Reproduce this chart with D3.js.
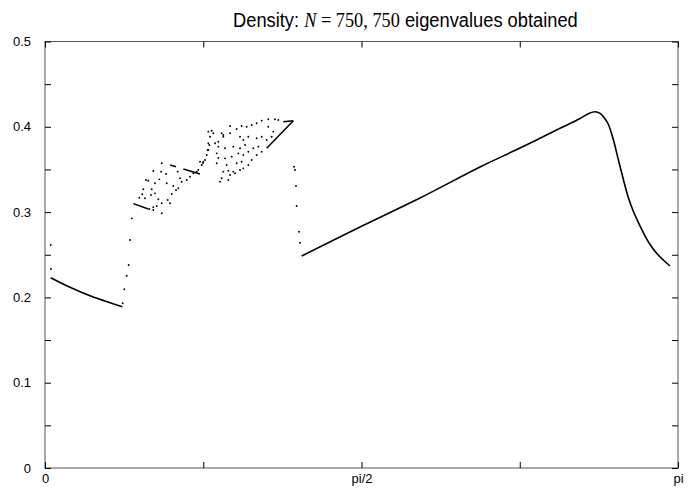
<!DOCTYPE html>
<html><head><meta charset="utf-8">
<script src="https://cdn.jsdelivr.net/npm/d3@7"></script>
<style>html,body{margin:0;padding:0;background:#fff}</style>
</head><body><svg id="chart" width="694" height="490"></svg>
<script>
// Eigenvalue density, x given in units of pi, y the density value.

// Smooth left branch (dense eigenvalues, drawn as a line)
const leftBranchX = [0.009, 0.0395, 0.0711, 0.1027, 0.1221];
const leftBranchY = [0.223, 0.2118, 0.2018, 0.1937, 0.1891];

// Smooth main branch: rising part, peak and falling tail
const mainBranchX = [0.4055, 0.4992, 0.5924, 0.6872, 0.7504, 0.8136, 0.8452, 0.8600, 0.8689, 0.8770, 0.8840, 0.8899, 0.8978, 0.9057, 0.9136, 0.9215, 0.9294, 0.9373, 0.9452, 0.9558, 0.9663, 0.9768, 0.9874];
const mainBranchY = [0.2485, 0.2831, 0.3165, 0.3529, 0.3751, 0.3982, 0.4097, 0.4160, 0.4177, 0.4158, 0.4100, 0.4030, 0.3850, 0.3615, 0.3385, 0.3170, 0.3010, 0.2880, 0.2760, 0.2620, 0.2517, 0.2438, 0.2368];

// Short runs of closely spaced eigenvalues inside the scattered region
const runStartX = [0.1395, 0.1975, 0.2185, 0.3923, 0.3765];
const runStartY = [0.3099, 0.3552, 0.3505, 0.4072, 0.4060];
const runEndX   = [0.1632, 0.2070, 0.2449, 0.3502, 0.3923];
const runEndY   = [0.3036, 0.3532, 0.3447, 0.3748, 0.4072];

// Isolated eigenvalues
const scatterX = [
  0.009, 0.0095,
  0.1227, 0.1253, 0.1290, 0.1322, 0.1343, 0.1370,
  0.1844, 0.1711, 0.1833, 0.1912, 0.2096, 0.2449, 0.2496, 0.2528, 0.2476,
  0.2580, 0.2596, 0.2570, 0.1632, 0.1806, 0.2133, 0.2160, 0.1686, 0.1553,
  0.1738, 0.1923, 0.2027, 0.2106, 0.2239, 0.2291, 0.2343, 0.2397, 0.1490,
  0.1537, 0.1580, 0.1675, 0.1738, 0.1790, 0.1938, 0.2002, 0.2070, 0.1648,
  0.1711, 0.1765, 0.1844, 0.1844, 0.1711, 0.1975, 0.1596,
  0.2501, 0.2422, 0.2634, 0.2659, 0.2607, 0.2580, 0.2580, 0.2555,
  0.2686, 0.2738, 0.2713, 0.2738, 0.2713,
  0.2791, 0.2817, 0.2923, 0.3028, 0.3107, 0.3186, 0.3265, 0.3344, 0.3423, 0.3528, 0.3633, 0.3686,
  0.2765, 0.2791, 0.2896, 0.2923, 0.3002, 0.3081, 0.3133, 0.3212, 0.3265, 0.3344, 0.3423,
  0.2817, 0.2896, 0.2975,
  0.2923, 0.3081, 0.3133, 0.3212, 0.3344, 0.3423, 0.3502, 0.3581, 0.3607, 0.3528,
  0.2844, 0.2975, 0.3081, 0.3160, 0.2844, 0.2949, 0.3054, 0.3133, 0.3212, 0.3291, 0.3370,
  0.2817, 0.2738, 0.2870, 0.3028, 0.3107,
  0.3934, 0.3949, 0.3965, 0.3976, 0.4013, 0.4028
];
const scatterY = [
  0.2614, 0.2333,
  0.1931, 0.2095, 0.2254, 0.2380, 0.2673, 0.2927,
  0.3572, 0.3482, 0.3474, 0.3447, 0.3474, 0.3591, 0.3576, 0.3611, 0.3552,
  0.3943, 0.3787, 0.3728, 0.3368, 0.3384, 0.3396, 0.3356, 0.3267, 0.3267,
  0.3338, 0.3338, 0.3306, 0.3279, 0.3376, 0.3415, 0.3455, 0.3474, 0.3169,
  0.3209, 0.3162, 0.3200, 0.3220, 0.3150, 0.3142, 0.3212, 0.3259, 0.3036,
  0.3056, 0.3071, 0.3103, 0.2986, 0.3025, 0.3103, 0.3376,
  0.3591, 0.3494, 0.3954, 0.3924, 0.3884, 0.3807, 0.3728, 0.3669,
  0.3807, 0.3767, 0.3689, 0.3634, 0.3572,
  0.3924, 0.3904, 0.4009, 0.3974, 0.4009, 0.4001, 0.4021, 0.4041, 0.4072, 0.4088, 0.4088, 0.4080,
  0.3357, 0.3396, 0.3376, 0.3435, 0.3455, 0.3494, 0.3513, 0.3552, 0.3611, 0.3669, 0.3708,
  0.3474, 0.3485, 0.3474,
  0.3924, 0.3884, 0.3845, 0.3884, 0.3865, 0.3884, 0.3845, 0.3884, 0.3943, 0.4001,
  0.3748, 0.3767, 0.3748, 0.3787, 0.3630, 0.3650, 0.3689, 0.3669, 0.3708, 0.3748, 0.3767,
  0.3884, 0.3825, 0.3552, 0.3572, 0.3591,
  0.3532, 0.3494, 0.3306, 0.3072, 0.2770, 0.2641
];

// Axis ticks
const xTickValues = [0, 0.25, 0.5, 0.75, 1];
const xTickLabels = ["0", "", "pi/2", "", "pi"];
const yTickValues = [0, 0.05, 0.1, 0.15, 0.2, 0.25, 0.3, 0.35, 0.4, 0.45, 0.5];
const yTickLabels = ["0", "", "0.1", "", "0.2", "", "0.3", "", "0.4", "", "0.5"];

const W = 694, H = 490;
const margin = {left: 45, right: 16, top: 41.5, bottom: 22};
const svg = d3.select("#chart");

const x = d3.scaleLinear().domain([0, 1]).range([margin.left, W - margin.right]);
const y = d3.scaleLinear().domain([0, 0.5]).range([H - margin.bottom, margin.top]);

const labelFont = "'Liberation Sans', Arial, Helvetica, sans-serif";
const mathFont = "'Liberation Serif', 'DejaVu Serif', serif";
const tickLen = 6;

// Frame
svg.append("rect")
  .attr("x", x(0)).attr("y", y(0.5))
  .attr("width", x(1) - x(0)).attr("height", y(0) - y(0.5))
  .attr("fill", "none").attr("stroke", "#555").attr("stroke-width", 1);

function styleAxis(g) {
  g.select(".domain").remove();
  g.selectAll(".tick line").attr("stroke", "#000").attr("stroke-width", 1);
  g.selectAll(".tick text").attr("font-family", labelFont).attr("font-size", 13).attr("fill", "#000");
}

// Bottom and left axes with labels; top and right mirrored ticks only
svg.append("g").attr("transform", `translate(0,${y(0)})`)
  .call(d3.axisBottom(x).tickValues(xTickValues)
    .tickFormat((d, i) => xTickLabels[i]).tickSizeInner(-tickLen).tickSizeOuter(0).tickPadding(3))
  .call(styleAxis)
  .call(g => g.selectAll(".tick text").attr("dy", "0.9em"));

svg.append("g").attr("transform", `translate(0,${y(0.5)})`)
  .call(d3.axisTop(x).tickValues(xTickValues).tickFormat("").tickSizeInner(-tickLen).tickSizeOuter(0))
  .call(styleAxis);

svg.append("g").attr("transform", `translate(${x(0)},0)`)
  .call(d3.axisLeft(y).tickValues(yTickValues)
    .tickFormat((d, i) => yTickLabels[i]).tickSizeInner(-tickLen).tickSizeOuter(0).tickPadding(14))
  .call(styleAxis);

svg.append("g").attr("transform", `translate(${x(1)},0)`)
  .call(d3.axisRight(y).tickValues(yTickValues).tickFormat("").tickSizeInner(-tickLen).tickSizeOuter(0))
  .call(styleAxis);

// Title, set in a slightly condensed face
const titleG = svg.append("g");
const title = titleG.append("text")
  .attr("x", 0).attr("y", 0)
  .attr("font-size", 20).attr("fill", "#000");
title.append("tspan").attr("font-family", labelFont).text("Density: ");
title.append("tspan").attr("font-family", mathFont).attr("font-style", "italic").text("N");
title.append("tspan").attr("font-family", mathFont).text(" = 750, 750");
title.append("tspan").attr("font-family", labelFont).text(" eigenvalues obtained");
const titleWidth = title.node().getComputedTextLength();
titleG.attr("transform", `translate(233,27) scale(${345 / titleWidth},1)`);

const plot = svg.append("g");
const line = d3.line().x(d => x(d[0])).y(d => y(d[1])).curve(d3.curveCatmullRom.alpha(0.5));

// Dense branches
[[leftBranchX, leftBranchY], [mainBranchX, mainBranchY]].forEach(([xs, ys]) => {
  plot.append("path")
    .datum(xs.map((v, i) => [v, ys[i]]))
    .attr("d", line)
    .attr("fill", "none").attr("stroke", "#000").attr("stroke-width", 1.6);
});

// Short runs
plot.selectAll("line.run")
  .data(runStartX.map((v, i) => ({x1: v, y1: runStartY[i], x2: runEndX[i], y2: runEndY[i]})))
  .join("line").attr("class", "run")
  .attr("x1", d => x(d.x1)).attr("y1", d => y(d.y1))
  .attr("x2", d => x(d.x2)).attr("y2", d => y(d.y2))
  .attr("stroke", "#000").attr("stroke-width", 1.5);

// Isolated eigenvalues
plot.selectAll("circle.ev")
  .data(scatterX.map((v, i) => [v, scatterY[i]]))
  .join("circle").attr("class", "ev")
  .attr("cx", d => x(d[0])).attr("cy", d => y(d[1]))
  .attr("r", 0.95).attr("fill", "#000");
</script></body></html>
